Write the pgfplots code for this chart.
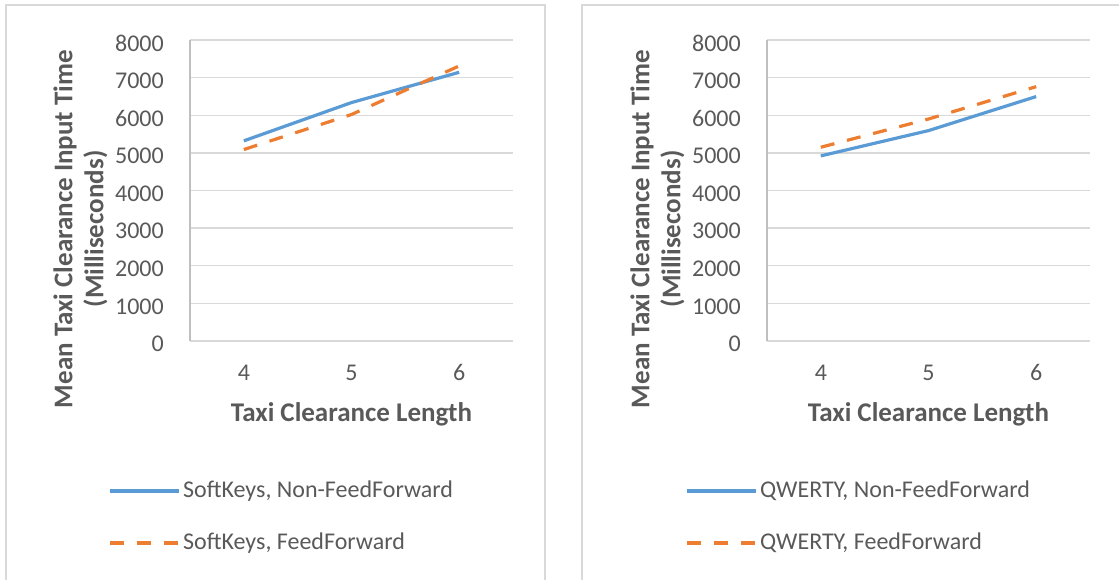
\documentclass[border=0pt]{standalone}
\usepackage{fontspec}
\setmainfont{Carlito}
\usepackage{pgfplots}
\pgfplotsset{compat=1.18}

\definecolor{txt}{HTML}{595959}
\definecolor{gridc}{HTML}{D9D9D9}
\definecolor{axc}{HTML}{BFBFBF}
\definecolor{sblue}{HTML}{5B9BD5}
\definecolor{sorange}{HTML}{ED7D31}

\pgfplotsset{
  panel/.style={
    scale only axis, width=323pt, height=301pt,
    xmin=3.5, xmax=6.5, ymin=0, ymax=8000,
    xtick={4,5,6}, ytick={0,1000,...,8000},
    scaled y ticks=false,
    /pgf/number format/1000 sep={},
    /pgf/number format/assume math mode=true,
    ymajorgrids, grid style={draw=gridc, line width=1.3pt},
    major tick length=0pt,
    axis lines*=left,
    x axis line style={draw=gridc, line width=1.3pt},
    y axis line style={draw=axc, line width=1.3pt},
    tick label style={font=\fontsize{24}{28}\selectfont, text=txt},
    yticklabel style={anchor=east, inner sep=0pt, xshift=-26pt, yshift=-3pt},
    xticklabel style={anchor=base, inner sep=0pt, yshift=-39pt},
    label style={font=\bfseries\fontsize{27}{31}\selectfont, text=txt},
    xlabel={Taxi Clearance Length},
    xlabel style={at={(axis description cs:0.5,-0.2658)}, anchor=base},
    ylabel={Mean Taxi Clearance Input Time\\(Milliseconds)},
    ylabel style={at={(axis description cs:-0.339,0.372)}, anchor=center, align=center},
    legend style={at={(axis description cs:-0.254,-0.462)}, anchor=north west,
      draw=none, fill=none, inner sep=0pt, outer sep=0pt, row sep=30pt,
      font=\fontsize{24}{28}\selectfont, text=txt,
      nodes={inner sep=0pt, text height=17pt, text depth=5pt},
      /tikz/every odd column/.append style={column sep=3pt}},
    legend cell align=left,
    legend image code/.code={\draw[#1] (0pt,0pt) -- (69pt,0pt);},
  },
  nonff/.style={sblue, line width=3.2pt, line join=round},
  ff/.style={sorange, line width=3.2pt, line join=round, dash pattern=on 14pt off 13pt},
}

\begin{document}
\begin{tikzpicture}
\useasboundingbox (0,0) rectangle (1119pt,579pt);
% panel frames
\draw[gridc, line width=1.3pt] (6pt,-20pt) rectangle (545pt,574pt);
\draw[gridc, line width=1.3pt] (582pt,-20pt) rectangle (1140pt,574pt);

% SoftKeys
\begin{axis}[panel, at={(190pt,238pt)}, anchor=south west]
  \addplot[nonff] coordinates {(4,5320) (5,6337) (6,7142)};
  \addlegendentry{SoftKeys, Non-FeedForward}
  \addplot[ff] coordinates {(4,5089) (5,6020) (6,7310)};
  \addlegendentry{SoftKeys, FeedForward}
\end{axis}

% QWERTY
\begin{axis}[panel, at={(767pt,238pt)}, anchor=south west]
  \addplot[nonff] coordinates {(4,4920) (5,5592) (6,6497)};
  \addlegendentry{QWERTY, Non-FeedForward}
  \addplot[ff] coordinates {(4,5150) (5,5900) (6,6760)};
  \addlegendentry{QWERTY, FeedForward}
\end{axis}
\end{tikzpicture}
\end{document}
